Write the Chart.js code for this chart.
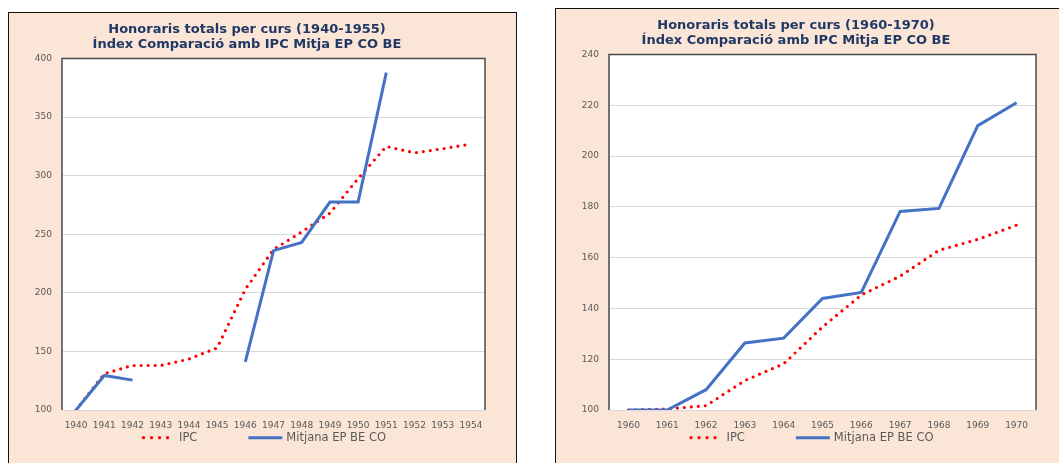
<!DOCTYPE html>
<html>
<head>
<meta charset="utf-8">
<script src="https://cdn.jsdelivr.net/npm/chart.js@4.4.1/dist/chart.umd.min.js"></script>
<style>
  html, body { margin: 0; padding: 0; background: #ffffff; width: 1059px; height: 463px; overflow: hidden; }
  .box { position: absolute; box-sizing: border-box; background: #fbe5d6; border: 1.5px solid #111; }
  canvas { position: absolute; }
</style>
</head>
<body>
<div class="box" style="left:8px; top:11.5px; width:509px; height:480px;"></div>
<div class="box" style="left:555px; top:7.5px; width:530px; height:480px;"></div>
<canvas id="c1" width="510" height="450" style="left:9px; top:13px;"></canvas>
<canvas id="c2" width="511" height="454" style="left:556px; top:9px;"></canvas>
<script>
// ---------- DATA ----------
const years1 = ['1940','1941','1942','1943','1944','1945','1946','1947','1948','1949','1950','1951','1952','1953','1954'];
const ipc1 = [100, 131, 138, 138, 143.5, 153, 203, 237, 252, 268, 297.5, 325, 319.5, 323, 327];
const mitjana1 = [100, 129.5, 125.5, null, null, null, 141, 236, 243, 277.5, 277.5, 388, null, null, null];
const yTicks1 = { min: 100, max: 400, step: 50 };

const years2 = ['1960','1961','1962','1963','1964','1965','1966','1967','1968','1969','1970'];
const ipc2 = [100, 100.4, 101.7, 111.6, 118.2, 132.7, 145.3, 152.7, 162.9, 167.2, 172.8];
const mitjana2 = [100, 100, 108, 126.4, 128.3, 143.9, 146.3, 178.2, 179.4, 212, 221];
const yTicks2 = { min: 100, max: 240, step: 20 };

const title1 = ['Honoraris totals per curs (1940-1955)', 'Índex Comparació amb IPC Mitja EP CO BE'];
const title2 = ['Honoraris totals per curs (1960-1970)', 'Índex Comparació amb IPC Mitja EP CO BE'];
const seriesNames = ['IPC', 'Mitjana EP BE CO'];

// ---------- STYLE ----------
const FONT = '"DejaVu Sans", Verdana, sans-serif';
const TICK_COLOR = '#595959';
const GRID_COLOR = '#d9d9d9';

const plotFrame = {
  id: 'plotFrame',
  beforeDraw(chart) {
    const { ctx, chartArea: { left, top, right, bottom } } = chart;
    ctx.save();
    ctx.fillStyle = '#ffffff';
    ctx.fillRect(left, top, right - left, bottom - top);
    ctx.restore();
  },
  beforeDatasetsDraw(chart) {
    const { ctx, chartArea: { left, top, right, bottom } } = chart;
    ctx.save();
    ctx.strokeStyle = '#4a4a4a';
    ctx.lineWidth = 1.5;
    ctx.beginPath();
    ctx.moveTo(left, bottom);
    ctx.lineTo(left, top);
    ctx.lineTo(right, top);
    ctx.lineTo(right, bottom);
    ctx.stroke();
    ctx.restore();
  }
};

const customLegend = {
  id: 'customLegend',
  afterDraw(chart) {
    const ctx = chart.ctx;
    ctx.save();
    ctx.font = '11.5px ' + FONT;
    const gapText = 4, gapItem = 51;
    const items = chart.data.datasets.map(ds => ({
      ds,
      sw: ds.legendSample,
      tw: ctx.measureText(ds.label).width
    }));
    let total = 0;
    items.forEach((it, i) => { total += it.sw + gapText + it.tw + (i > 0 ? gapItem : 0); });
    let x = chart.width / 2 - total / 2;
    const y = chart.chartArea.bottom + 27.7;
    items.forEach((it, i) => {
      if (i > 0) x += gapItem;
      const ds = it.ds;
      ctx.save();
      ctx.strokeStyle = ds.borderColor;
      ctx.lineWidth = ds.borderWidth;
      ctx.lineCap = ds.borderCapStyle || 'butt';
      ctx.setLineDash(ds.legendDash || []);
      ctx.beginPath();
      ctx.moveTo(x + (ds.legendDash ? 1.5 : 0), y);
      ctx.lineTo(x + it.sw, y);
      ctx.stroke();
      ctx.restore();
      x += it.sw + gapText;
      ctx.fillStyle = TICK_COLOR;
      ctx.textBaseline = 'middle';
      ctx.textAlign = 'left';
      ctx.fillText(ds.label, x, y);
      x += it.tw;
    });
    ctx.restore();
  }
};

function makeChart(id, labels, ipc, mitjana, yt, title, padRight) {
  return new Chart(document.getElementById(id), {
    type: 'line',
    data: {
      labels,
      datasets: [
        {
          label: seriesNames[0], data: ipc,
          borderColor: '#ff0000', borderWidth: 3.2, borderDash: [0, 7], borderCapStyle: 'round',
          pointRadius: 0, tension: 0, fill: false, order: 2,
          legendSample: 33, legendDash: [0, 8]
        },
        {
          label: seriesNames[1], data: mitjana,
          borderColor: '#4472c4', borderWidth: 3, borderCapStyle: 'butt', borderJoinStyle: 'miter',
          pointRadius: 0, tension: 0, fill: false, spanGaps: false, order: 1,
          legendSample: 34
        }
      ]
    },
    options: {
      responsive: false,
      animation: false,
      layout: { padding: { left: 0, right: padRight, top: 0, bottom: 0 } },
      plugins: {
        legend: { display: false },
        tooltip: { enabled: false },
        title: {
          display: true, text: title, color: '#203864',
          font: { family: FONT, size: 13, weight: 'bold', lineHeight: 15 / 13 },
          padding: { top: 9.5, bottom: 6 }
        }
      },
      scales: {
        x: {
          offset: true,
          grid: { display: false, drawTicks: false },
          border: { display: false },
          ticks: { color: TICK_COLOR, font: { family: FONT, size: 9 }, padding: 10, maxRotation: 0, autoSkip: false },
          afterFit(s) { s.height = 53; }
        },
        y: {
          min: yt.min, max: yt.max,
          grid: { color: GRID_COLOR, lineWidth: 1, drawTicks: false },
          border: { display: false },
          ticks: { stepSize: yt.step, color: TICK_COLOR, font: { family: FONT, size: 9 }, padding: 10 },
          afterFit(s) { s.width = 53; }
        }
      }
    },
    plugins: [plotFrame, customLegend]
  });
}

makeChart('c1', years1, ipc1, mitjana1, yTicks1, title1, 34);
makeChart('c2', years2, ipc2, mitjana2, yTicks2, title2, 31);
</script>
</body>
</html>
